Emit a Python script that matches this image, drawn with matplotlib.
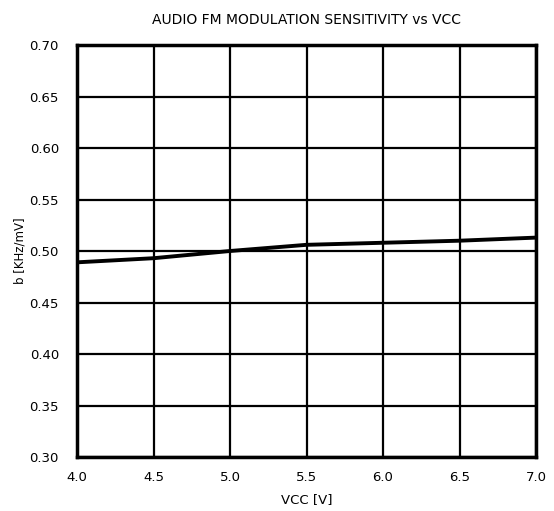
import matplotlib
matplotlib.use("Agg")
import matplotlib.pyplot as plt
from matplotlib import font_manager

vcc = [4.0, 4.5, 5.0, 5.5, 6.0, 6.5, 7.0]
sens = [0.489, 0.493, 0.500, 0.506, 0.508, 0.510, 0.513]
xticks = [4.0, 4.5, 5.0, 5.5, 6.0, 6.5, 7.0]
yticks = [0.30, 0.35, 0.40, 0.45, 0.50, 0.55, 0.60, 0.65, 0.70]

names = {f.name for f in font_manager.fontManager.ttflist}
fam = "Liberation Sans Narrow" if "Liberation Sans Narrow" in names else "DejaVu Sans"
plt.rcParams["font.family"] = [fam, "DejaVu Sans"]

fig = plt.figure(figsize=(5.54, 5.11), dpi=100)
ax = fig.add_axes([77 / 554, 1 - 457 / 511, 459 / 554, 412 / 511])

ax.plot(vcc, sens, color="black", lw=2.8, zorder=3)

ax.set_xlim(4.0, 7.0)
ax.set_ylim(0.30, 0.70)
ax.set_xticks(xticks)
ax.set_xticklabels([f"{v:.1f}" for v in xticks], fontsize=9.5)
ax.set_yticks(yticks)
ax.set_yticklabels([f"{v:.2f}" for v in yticks], fontsize=9.5)
ax.tick_params(axis="y", length=0, pad=13)
ax.tick_params(axis="x", length=0, pad=10)
ax.grid(True, color="black", lw=1.6)
for s in ax.spines.values():
    s.set_linewidth(2.5)

ax.set_xlabel("VCC [V]", fontsize=9.5)
ax.xaxis.set_label_coords(0.5, -0.088)
ax.set_ylabel("b [KHz/mV]", fontsize=8.5)
ax.yaxis.set_label_coords(-0.11, 0.5)
ax.set_title("AUDIO FM MODULATION SENSITIVITY vs VCC", fontsize=10, pad=15)

fig.savefig("out.png", dpi=100)
